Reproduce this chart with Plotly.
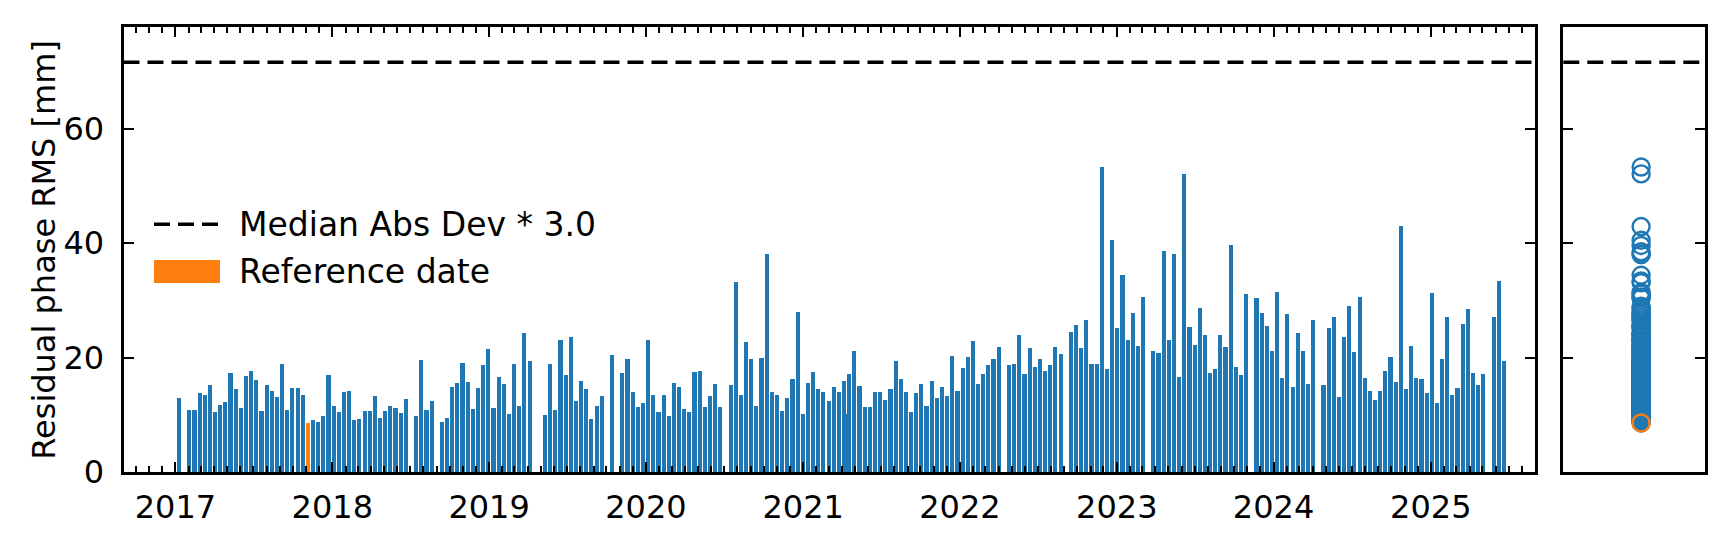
import plotly.graph_objects as go

# ---------------- data ----------------
dates = [
    "2017-01-08", "2017-02-01", "2017-02-13", "2017-02-25", "2017-03-09", "2017-03-21",
    "2017-04-02", "2017-04-14", "2017-04-26", "2017-05-08", "2017-05-20", "2017-06-01",
    "2017-06-13", "2017-06-25", "2017-07-07", "2017-07-19", "2017-07-31", "2017-08-12",
    "2017-08-24", "2017-09-05", "2017-09-17", "2017-09-29", "2017-10-11", "2017-10-23",
    "2017-11-04", "2017-11-16", "2017-11-28", "2017-12-10", "2017-12-22",
    "2018-01-03", "2018-01-15", "2018-01-27", "2018-02-08", "2018-02-20", "2018-03-04",
    "2018-03-16", "2018-03-28", "2018-04-09", "2018-04-21", "2018-05-03", "2018-05-15",
    "2018-05-27", "2018-06-08", "2018-06-20", "2018-07-14", "2018-07-26", "2018-08-07",
    "2018-08-19", "2018-09-12", "2018-09-24", "2018-10-06", "2018-10-18", "2018-10-30",
    "2018-11-11", "2018-11-23", "2018-12-05", "2018-12-17", "2018-12-29",
    "2019-01-10", "2019-01-22", "2019-02-03", "2019-02-15", "2019-02-27", "2019-03-11",
    "2019-03-23", "2019-04-04", "2019-05-10", "2019-05-22", "2019-06-03", "2019-06-15",
    "2019-06-27", "2019-07-09", "2019-07-21", "2019-08-02", "2019-08-14", "2019-08-26",
    "2019-09-07", "2019-09-19", "2019-10-13", "2019-11-06", "2019-11-18", "2019-11-30",
    "2019-12-12", "2019-12-24",
    "2020-01-05", "2020-01-17", "2020-01-29", "2020-02-10", "2020-02-22", "2020-03-05",
    "2020-03-17", "2020-03-29", "2020-04-10", "2020-04-22", "2020-05-04", "2020-05-16",
    "2020-05-28", "2020-06-09", "2020-06-21", "2020-07-15", "2020-07-27", "2020-08-08",
    "2020-08-20", "2020-09-01", "2020-09-13", "2020-09-25", "2020-10-07", "2020-10-19",
    "2020-10-31", "2020-11-12", "2020-11-24", "2020-12-06", "2020-12-18", "2020-12-30",
    "2021-01-11", "2021-01-23", "2021-02-04", "2021-02-16", "2021-02-28", "2021-03-12",
    "2021-03-24", "2021-04-05", "2021-04-11", "2021-04-17", "2021-04-29", "2021-05-11",
    "2021-05-23", "2021-06-04", "2021-06-16", "2021-06-28", "2021-07-10", "2021-07-22",
    "2021-08-03", "2021-08-15", "2021-08-27", "2021-09-08", "2021-09-20", "2021-10-02",
    "2021-10-14", "2021-10-26", "2021-11-07", "2021-11-19", "2021-12-01", "2021-12-13",
    "2021-12-25",
    "2022-01-06", "2022-01-18", "2022-01-30", "2022-02-11", "2022-02-23", "2022-03-07",
    "2022-03-19", "2022-03-31", "2022-04-24", "2022-05-06", "2022-05-18", "2022-05-30",
    "2022-06-11", "2022-06-23", "2022-07-05", "2022-07-17", "2022-07-29", "2022-08-10",
    "2022-08-22", "2022-09-15", "2022-09-27", "2022-10-09", "2022-10-21", "2022-11-02",
    "2022-11-14", "2022-11-26", "2022-12-08", "2022-12-20",
    "2023-01-01", "2023-01-13", "2023-01-25", "2023-02-06", "2023-02-18", "2023-03-02",
    "2023-03-26", "2023-04-07", "2023-04-19", "2023-05-01", "2023-05-13", "2023-05-25",
    "2023-06-06", "2023-06-18", "2023-06-30", "2023-07-12", "2023-07-24", "2023-08-05",
    "2023-08-17", "2023-08-29", "2023-09-10", "2023-09-22", "2023-10-04", "2023-10-16",
    "2023-10-28", "2023-11-21", "2023-12-03", "2023-12-15", "2023-12-27",
    "2024-01-08", "2024-01-20", "2024-02-01", "2024-02-13", "2024-02-25", "2024-03-08",
    "2024-03-20", "2024-04-01", "2024-04-25", "2024-05-07", "2024-05-19", "2024-05-31",
    "2024-06-12", "2024-06-24", "2024-07-06", "2024-07-18", "2024-07-30", "2024-08-11",
    "2024-08-23", "2024-09-04", "2024-09-16", "2024-09-28", "2024-10-10", "2024-10-22",
    "2024-11-03", "2024-11-15", "2024-11-27", "2024-12-09", "2024-12-21",
    "2025-01-02", "2025-01-14", "2025-01-26", "2025-02-07", "2025-02-19", "2025-03-03",
    "2025-03-15", "2025-03-27", "2025-04-08", "2025-04-20", "2025-05-02", "2025-05-26",
    "2025-06-07", "2025-06-19",
]

rms_mm = [
    12.9, 10.8, 10.8, 13.7, 13.5, 15.2,
    10.5, 11.7, 12.2, 17.3, 14.4, 11.2,
    16.8, 17.6, 16.1, 10.7, 15.2, 14.2,
    13.0, 18.9, 10.8, 14.7, 14.7, 13.4,
    8.6, 9.1, 8.8, 9.8, 16.9,
    11.5, 10.5, 13.9, 14.2, 9.0, 9.3,
    10.7, 10.7, 13.2, 9.5, 10.7, 11.5,
    11.2, 10.3, 12.7, 9.8, 19.6, 10.8,
    12.4, 8.8, 9.5, 14.9, 15.6, 19.1,
    15.7, 11.0, 14.6, 18.6, 21.5,
    11.2, 16.6, 15.4, 10.2, 18.8, 11.5,
    24.3, 19.3, 10.0, 18.9, 10.8, 23.1,
    16.9, 23.6, 12.4, 15.9, 14.4, 9.3,
    11.5, 13.2, 20.4, 17.3, 19.8, 13.9,
    11.3, 12.0,
    23.1, 13.4, 10.5, 13.4, 9.7, 15.5,
    14.9, 11.0, 10.5, 17.4, 17.7, 11.3,
    13.2, 15.4, 11.3, 15.1, 33.1, 13.4,
    22.7, 19.7, 11.5, 19.9, 38.1, 13.9,
    13.4, 10.7, 12.9, 16.2, 28.0, 10.2,
    15.5, 17.4, 14.5, 13.9, 12.4, 14.9,
    14.0, 15.9, 10.2, 17.1, 21.1, 15.0,
    11.3, 11.3, 14.0, 13.9, 12.5, 14.5,
    19.3, 16.2, 13.9, 10.5, 13.7, 15.4,
    11.5, 15.9, 12.9, 14.9, 13.2, 20.3,
    14.2,
    18.1, 20.1, 22.8, 15.4, 17.1, 18.6,
    19.8, 21.8, 18.6, 18.9, 24.0, 17.1,
    21.6, 18.3, 19.8, 17.7, 18.6, 21.8,
    20.6, 24.5, 25.7, 21.6, 26.5, 18.8,
    18.8, 53.3, 17.9, 40.5,
    25.2, 34.4, 23.1, 27.8, 22.0, 30.6,
    21.1, 20.8, 38.5, 23.0, 38.0, 16.6,
    52.1, 25.3, 22.2, 28.7, 24.0, 17.3,
    17.9, 24.0, 21.8, 39.6, 18.4, 16.9,
    31.1, 30.4, 27.7, 25.5, 21.1,
    31.4, 16.4, 27.5, 14.9, 24.2, 21.1,
    15.4, 26.5, 15.2, 25.2, 27.0, 13.0,
    23.6, 29.0, 21.0, 30.5, 16.4, 14.2,
    12.5, 14.2, 17.7, 20.1, 15.7, 42.9,
    14.5, 22.0, 16.4, 16.2, 13.7,
    31.2, 12.0, 19.8, 27.0, 13.5, 14.7,
    25.9, 28.5, 17.3, 15.1, 17.1, 27.0,
    33.4, 19.3,
]

reference_date = "2017-11-04"
mad_threshold = 71.6
y_max = 77.7
legend_labels = ["Median Abs Dev * 3.0", "Reference date"]
y_title = "Residual phase RMS [mm]"

# ---------------- styling ----------------
W, H = 1717, 545
BLUE = "#1f77b4"
ORANGE = "#ff7f0e"
FONT = "DejaVu Sans"
FS = 32

def px_x(p):
    return p / W

def px_y(p):
    return 1 - p / H

main_dom = [px_x(115.5), px_x(1526.8)]
side_dom = [px_x(1555.3), px_x(1696.8)]
y_dom = [px_y(481), px_y(20)]

bar_colors = [ORANGE if d == reference_date else BLUE for d in dates]
ref_vals = [v for d, v in zip(dates, rms_mm) if d == reference_date]

fig = go.Figure()

fig.add_trace(go.Bar(
    x=dates, y=rms_mm, width=9.6 * 86400000,
    marker=dict(color=bar_colors, line=dict(width=0)),
    xaxis="x", yaxis="y", showlegend=False,
))

fig.add_trace(go.Scatter(
    x=[0.1] * len(rms_mm), y=rms_mm, mode="markers",
    marker=dict(symbol="circle-open", size=17, color=BLUE, line=dict(width=2.4, color=BLUE)),
    xaxis="x2", yaxis="y2", showlegend=False,
))
fig.add_trace(go.Scatter(
    x=[0.1] * len(ref_vals), y=ref_vals, mode="markers",
    marker=dict(symbol="circle-open", size=17, color=ORANGE, line=dict(width=2.4, color=ORANGE)),
    xaxis="x2", yaxis="y2", showlegend=False,
))

# threshold lines
for xr, yr in (("x domain", "y"), ("x2 domain", "y2")):
    fig.add_shape(type="line", xref=xr, yref=yr, x0=0, x1=1,
                  y0=mad_threshold, y1=mad_threshold,
                  line=dict(color="black", width=3.5, dash="16px,8px"))

# manual legend
fig.add_shape(type="line", xref="paper", yref="paper",
              x0=px_x(146), x1=px_x(212), y0=px_y(224), y1=px_y(224),
              line=dict(color="black", width=3.5, dash="16px,8px"))
fig.add_shape(type="rect", xref="paper", yref="paper",
              x0=px_x(146), x1=px_x(212), y0=px_y(285), y1=px_y(261),
              fillcolor=ORANGE, line=dict(width=0))
fig.add_annotation(x=px_x(229), y=px_y(224), xref="paper", yref="paper",
                   text=legend_labels[0], showarrow=False, xanchor="left", yanchor="middle",
                   font=dict(family=FONT, size=33, color="black"))
fig.add_annotation(x=px_x(229), y=px_y(273), xref="paper", yref="paper",
                   text=legend_labels[1], showarrow=False, xanchor="left", yanchor="middle",
                   font=dict(family=FONT, size=33, color="black"))

# y title
fig.add_annotation(x=px_x(36), y=(y_dom[0] + y_dom[1]) / 2, xref="paper", yref="paper",
                   text=y_title, showarrow=False, textangle=-90,
                   xanchor="center", yanchor="middle",
                   font=dict(family=FONT, size=FS, color="black"))

axis_common = dict(showline=True, linecolor="black", linewidth=3, mirror="allticks",
                   showgrid=False, zeroline=False, ticks="inside", tickcolor="black")

fig.update_layout(
    width=W, height=H,
    margin=dict(l=0, r=0, t=0, b=0),
    paper_bgcolor="white", plot_bgcolor="white",
    font=dict(family=FONT, size=FS, color="black"),
    bargap=0,
    xaxis=dict(
        domain=main_dom, type="date",
        range=["2016-09-02", "2025-08-31"],
        tick0="2017-01-01", dtick="M12", tickformat="%Y",
        ticklen=10, tickwidth=2.2,
        minor=dict(dtick="M1", ticks="inside", ticklen=6, tickwidth=1.6, tickcolor="black"),
        ticklabelstandoff=4,
        tickfont=dict(family=FONT, size=FS, color="black"),
        **axis_common,
    ),
    yaxis=dict(
        domain=y_dom, range=[0, y_max],
        tickvals=[0, 20, 40, 60], ticklen=10, tickwidth=2.2,
        ticklabelstandoff=10,
        tickfont=dict(family=FONT, size=FS, color="black"),
        **axis_common,
    ),
    xaxis2=dict(
        domain=side_dom, range=[-1, 1], anchor="y2",
        showline=True, linecolor="black", linewidth=3, mirror=True,
        showgrid=False, zeroline=False, ticks="", showticklabels=False,
    ),
    yaxis2=dict(
        domain=y_dom, range=[0, y_max], anchor="x2",
        tickvals=[0, 20, 40, 60], ticklen=10, tickwidth=2.2, showticklabels=False,
        **axis_common,
    ),
)

fig.write_html("out.html")
